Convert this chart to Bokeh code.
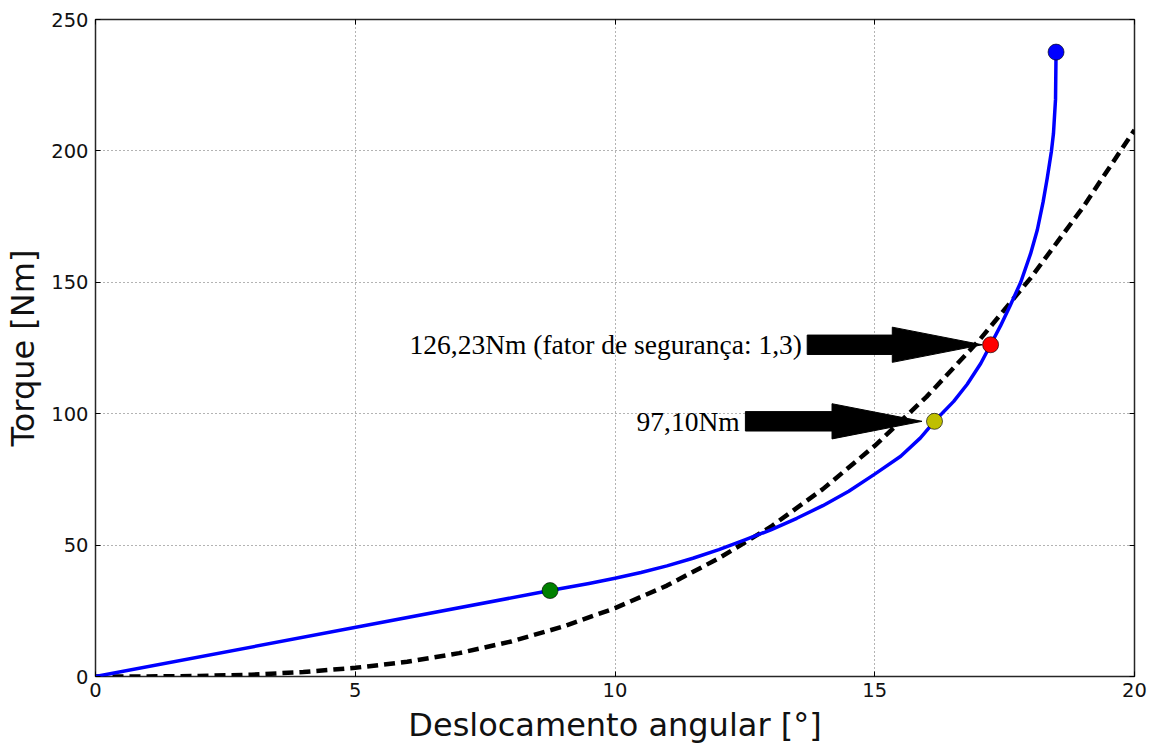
from bokeh.plotting import figure
from bokeh.models import Range1d, LinearAxis, FixedTicker, CustomJSTickFormatter, ColumnDataSource
from bokeh.core.properties import value
from bokeh.embed import file_html
from bokeh.resources import INLINE

# ---------------- data ----------------
desl_blue = [0, 8.75, 9.5, 10, 10.5, 11, 11.5, 12, 12.5, 13, 13.5, 14, 14.5, 15,
             15.5, 15.88, 16.15, 16.52, 16.78, 17.04, 17.23, 17.42, 17.61, 17.81,
             18.0, 18.13, 18.24, 18.32, 18.40, 18.44, 18.48, 18.49]
torque_blue = [0, 32.7, 35.4, 37.4, 39.6, 42.1, 45.0, 48.3, 52.0, 55.8, 60.2, 65.0,
               70.5, 77.0, 83.8, 90.8, 97.1, 104.7, 111.2, 119.1, 126.23, 133.4,
               141.3, 150, 160.9, 170.0, 180.5, 189.6, 199.8, 206.6, 219.7, 237.6]

desl_ref = [0, 1, 2, 3, 4, 5, 6, 7, 8, 9, 10, 11, 12, 13, 14, 15, 16, 17, 18, 19, 20]
torque_ref = [0, 0.03, 0.2, 0.7, 1.7, 3.3, 5.6, 8.9, 13.3, 19, 26, 34.6, 45, 57,
              71.3, 87.8, 106.5, 127.7, 151.6, 178.3, 208]

marker_x = [8.75, 16.15, 17.23, 18.49]
marker_y = [32.7, 97.10, 126.23, 237.6]
marker_colors = ["green", "#bfbf00", "red", "blue"]

annot_texts = ["126,23Nm (fator de segurança: 1,3)", "97,10Nm"]
annot_text_x = [13.6, 12.4]
annot_tail_x = [13.7, 12.51]
annot_tip_x = [17.07, 15.91]
annot_y = [126.23, 97.10]

x_ticks = [0, 5, 10, 15, 20]
y_ticks = [0, 50, 100, 150, 200, 250]

# ---------------- figure ----------------
FW, FH = 1039, 657
X0, X1, Y0, Y1 = 0, 20, 0, 250

p = figure(frame_width=FW, frame_height=FH,
           x_range=Range1d(X0, X1), y_range=Range1d(Y0, Y1),
           output_backend="svg", toolbar_location=None,
           min_border_left=95, min_border_top=19, min_border_right=16,
           min_border_bottom=10)

p.background_fill_color = "white"
p.border_fill_color = "white"
p.outline_line_color = "black"
p.outline_line_width = 1.5
p.outline_line_alpha = 0.85

for ax in (p.xaxis, p.yaxis):
    ax.axis_line_color = None
    ax.major_tick_in = 5
    ax.major_tick_out = 0
    ax.minor_tick_line_color = None
    ax.major_tick_line_color = "black"
    ax.major_label_text_font = "DejaVu Sans"
    ax.major_label_text_font_size = "19.5px"
    ax.major_label_text_color = "#111111"
    ax.axis_label_text_font = "DejaVu Sans"
    ax.axis_label_text_font_size = "32px"
    ax.axis_label_text_font_style = "normal"
    ax.axis_label_text_color = "#111111"

p.xaxis.ticker = FixedTicker(ticks=x_ticks)
p.yaxis.ticker = FixedTicker(ticks=y_ticks)
p.xaxis.axis_label = "Deslocamento angular [°]"
p.yaxis.axis_label = "Torque [Nm]"
p.xaxis.major_label_standoff = 6
p.yaxis.major_label_standoff = 7
p.xaxis.axis_label_standoff = 6
p.yaxis.axis_label_standoff = 6

empty = CustomJSTickFormatter(code="return ''")
top_ax = LinearAxis(ticker=FixedTicker(ticks=x_ticks), formatter=empty,
                    axis_line_color=None, major_tick_in=5, major_tick_out=0,
                    minor_tick_line_color=None, major_label_text_font_size="0px",
                    major_label_standoff=0)
right_ax = LinearAxis(ticker=FixedTicker(ticks=y_ticks), formatter=empty,
                      axis_line_color=None, major_tick_in=5, major_tick_out=0,
                      minor_tick_line_color=None, major_label_text_font_size="0px",
                      major_label_standoff=0)
p.add_layout(top_ax, "above")
p.add_layout(right_ax, "right")

for g in (p.xgrid, p.ygrid):
    g.grid_line_color = "black"
    g.grid_line_alpha = 0.6
    g.grid_line_width = 1
    g.grid_line_dash = "1 3"
p.xgrid.ticker = FixedTicker(ticks=x_ticks)
p.ygrid.ticker = FixedTicker(ticks=y_ticks)

# dashed reference curve
p.line(desl_ref, torque_ref, line_color="black", line_width=4.5, line_dash="11 6")

# blue curve
p.line(desl_blue, torque_blue, line_color="blue", line_width=3.5, line_join="round")

# arrows (shape in screen px converted to data units)
sx = FW / (X1 - X0)
sy = FH / (Y1 - Y0)
head_len, half_shaft, half_head = 90 / sx, 9.7 / sy, 17.6 / sy
axs, ays = [], []
for tail, tip, yy in zip(annot_tail_x, annot_tip_x, annot_y):
    base = tip - head_len
    axs.append([tail, base, base, tip, base, base, tail])
    ays.append([yy + half_shaft, yy + half_shaft, yy + half_head, yy,
                yy - half_head, yy - half_shaft, yy - half_shaft])
p.patches(axs, ays, fill_color="black", line_color="black", line_width=1,
          line_join="round")

# texts
src_t = ColumnDataSource(dict(x=annot_text_x, y=annot_y, t=annot_texts))
p.text(x="x", y="y", text="t", source=src_t, text_align="right",
       text_baseline="middle", text_font=value("Liberation Serif"),
       text_font_size="27.5px", text_color="black")

# markers
src_m = ColumnDataSource(dict(x=marker_x, y=marker_y, c=marker_colors))
p.scatter(x="x", y="y", source=src_m, size=16, fill_color="c",
          line_color="black", line_width=0.8, line_alpha=0.8)

open("out.html", "w").write(file_html(p, INLINE))
